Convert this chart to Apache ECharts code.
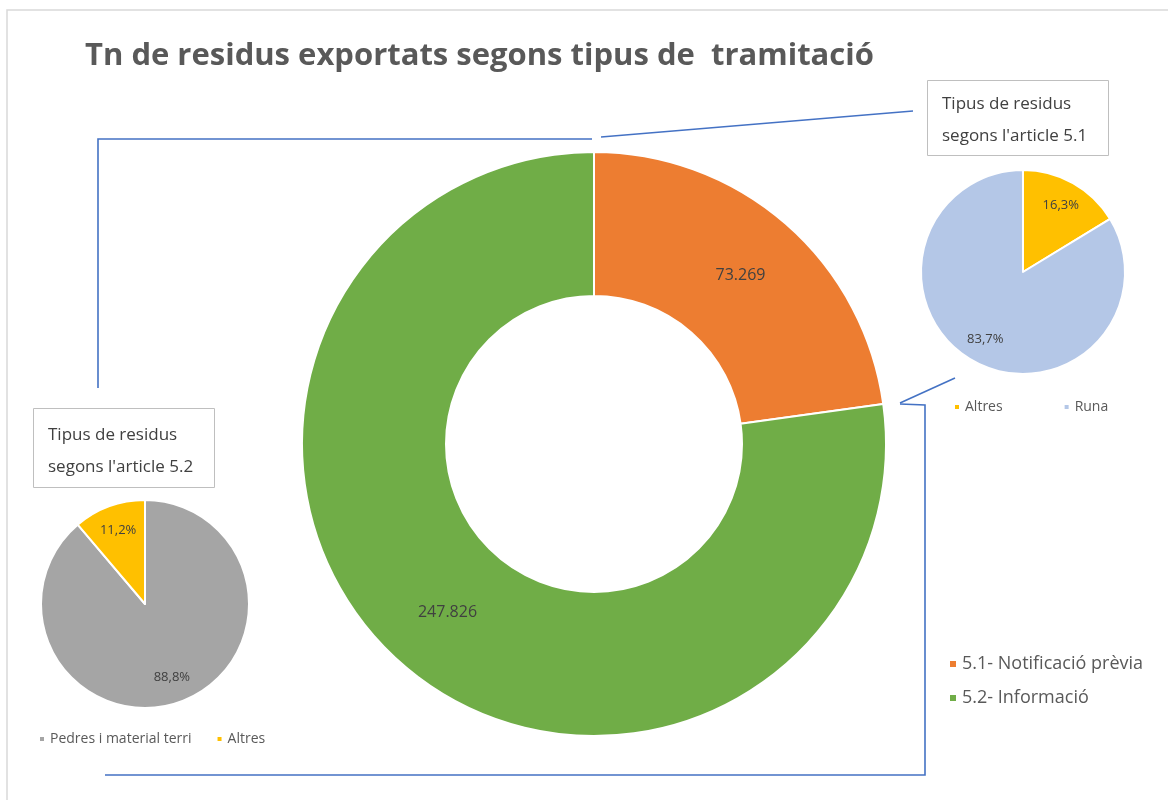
<!DOCTYPE html>
<html>
<head>
<meta charset="utf-8">
<script src="https://cdn.jsdelivr.net/npm/echarts@6/dist/echarts.min.js"></script>
<style>
  html, body { margin: 0; padding: 0; background: #fff; }
  #chart { width: 1168px; height: 800px; }
</style>
</head>
<body>
<div id="chart"></div>
<script>
// dades principals (tones)
const tramitacio = ['5.1- Notificació prèvia', '5.2- Informació']
const tones = [73269, 247826]

// article 5.1 (%)
const tipus51 = ['Altres', 'Runa']
const pct51 = [16.3, 83.7]

// article 5.2 (%)
const tipus52 = ['Pedres i material terri', 'Altres']
const pct52 = [88.8, 11.2]

const FONT = '"Open Sans", Lato, sans-serif'
const colors = {
  '5.1- Notificació prèvia': '#ED7D31',
  '5.2- Informació': '#70AD47',
  'Altres': '#FFC000',
  'Runa': '#B4C7E7',
  'Pedres i material terri': '#A5A5A5'
}

/** 73269 -> "73.269" */
function fmtTones(v) {
  return String(v).replace(/\B(?=(\d{3})+(?!\d))/g, '.')
}
/** 16.3 -> "16,3%" */
function fmtPct(v) {
  return v.toFixed(1).replace('.', ',') + '%'
}

function toData(names, values) {
  return names.map((n, i) => ({ name: n, value: values[i], itemStyle: { color: colors[n] } }))
}

const chart = echarts.init(document.getElementById('chart'))

const lineStyle = { stroke: '#4472C4', lineWidth: 1.6, fill: null }
const boxText = { fontFamily: FONT, fontSize: 17, fontWeight: 'normal', color: '#404040', lineHeight: 32 }
const smallText = { fontFamily: FONT, fontSize: 14, color: '#595959' }

chart.setOption({
  animation: false,
  textStyle: { fontFamily: FONT },
  title: [
    {
      text: 'Tn de residus exportats segons tipus de  tramitació',
      left: 80, top: 36,
      textStyle: { fontFamily: FONT, fontSize: 31, fontWeight: 'bold', color: '#595959' }
    },
    {
      text: 'Tipus de residus\nsegons l\'article 5.1',
      left: 927, top: 80,
      padding: [8, 22, 4, 15],
      borderColor: '#BFBFBF', borderWidth: 1,
      textStyle: boxText
    },
    {
      text: 'Tipus de residus\nsegons l\'article 5.2',
      left: 33, top: 408,
      padding: [11, 22, 5, 15],
      borderColor: '#BFBFBF', borderWidth: 1,
      textStyle: boxText
    }
  ],
  legend: [
    {
      data: tramitacio,
      orient: 'vertical', left: 943, top: 650,
      icon: 'rect', itemWidth: 8, itemHeight: 8, itemGap: 16,
      textStyle: { fontFamily: FONT, fontSize: 18, color: '#595959' }
    },
    {
      data: tipus51,
      left: 948, top: 395,
      icon: 'rect', itemWidth: 6, itemHeight: 6, itemGap: 60,
      textStyle: smallText
    },
    {
      data: tipus52,
      left: 33, top: 727,
      icon: 'rect', itemWidth: 6, itemHeight: 6, itemGap: 24,
      textStyle: smallText
    }
  ],
  graphic: [
    // marc exterior
    { type: 'rect', shape: { x: 7, y: 10, width: 1200, height: 820 }, style: { stroke: '#D9D9D9', fill: null, lineWidth: 1.5 }, silent: true },
    // connectors
    { type: 'polyline', shape: { points: [[98, 388], [98, 139], [592, 139]] }, style: lineStyle, silent: true },
    { type: 'line', shape: { x1: 601, y1: 137, x2: 913, y2: 111 }, style: lineStyle, silent: true },
    { type: 'line', shape: { x1: 900, y1: 403, x2: 955, y2: 378 }, style: lineStyle, silent: true },
    { type: 'polyline', shape: { points: [[900, 404], [925, 405], [925, 775], [105, 775]] }, style: lineStyle, silent: true }
  ],
  series: [
    {
      name: 'tramitacio',
      type: 'pie',
      center: [594, 444],
      radius: [148, 292],
      startAngle: 90,
      data: toData(tramitacio, tones),
      itemStyle: { borderColor: '#fff', borderWidth: 2 },
      label: {
        show: true, position: 'inside',
        formatter: p => fmtTones(p.value),
        fontFamily: FONT, fontSize: 16, color: '#404040'
      },
      labelLine: { show: false },
      emphasis: { disabled: true }
    },
    {
      name: 'art51',
      type: 'pie',
      center: [1023, 272],
      radius: [0, 102],
      startAngle: 90,
      data: toData(tipus51, pct51),
      itemStyle: { borderColor: '#fff', borderWidth: 2 },
      label: { show: false },
      emphasis: { disabled: true }
    },
    {
      name: 'art52',
      type: 'pie',
      center: [145, 604],
      radius: [0, 104],
      startAngle: 90,
      data: toData(tipus52, pct52),
      itemStyle: { borderColor: '#fff', borderWidth: 2 },
      label: { show: false },
      emphasis: { disabled: true }
    },
    // capes transparents només per situar les etiquetes de percentatge
    {
      name: 'art51-labels',
      type: 'pie', silent: true, legendHoverLink: false,
      center: [1023, 272],
      radius: [46, 102],
      startAngle: 90,
      data: toData(tipus51, pct51).map(d => ({ ...d, itemStyle: { color: 'rgba(0,0,0,0)' } })),
      label: {
        show: true, position: 'inside',
        formatter: p => fmtPct(p.value),
        fontFamily: FONT, fontSize: 13, color: '#404040'
      },
      labelLine: { show: false }
    },
    {
      name: 'art52-labels',
      type: 'pie', silent: true, legendHoverLink: false,
      center: [145, 604],
      radius: [46, 104],
      startAngle: 90,
      data: toData(tipus52, pct52).map(d => ({ ...d, itemStyle: { color: 'rgba(0,0,0,0)' } })),
      label: {
        show: true, position: 'inside',
        formatter: p => fmtPct(p.value),
        fontFamily: FONT, fontSize: 13, color: '#404040'
      },
      labelLine: { show: false }
    }
  ]
})

window.addEventListener('resize', () => chart.resize())
</script>
</body>
</html>
